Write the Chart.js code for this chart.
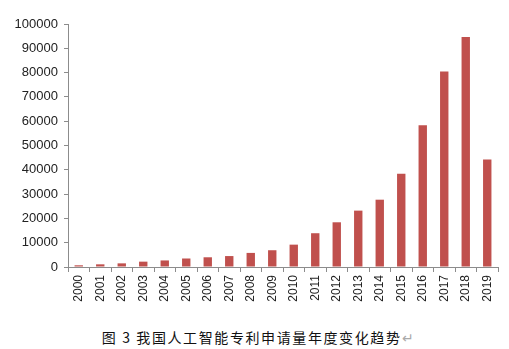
<!DOCTYPE html>
<html>
<head>
<meta charset="utf-8">
<script src="https://cdn.jsdelivr.net/npm/chart.js@4/dist/chart.umd.min.js"></script>
<style>
  html, body { margin: 0; padding: 0; background: #fff; }
  #wrap { position: relative; width: 509px; height: 349px; }
  #chart-box { position: absolute; left: 0; top: 0; width: 509px; height: 318px; }
  #caption {
    position: absolute; left: 0; width: 509px; top: 327px; padding-left: 4px;
    text-align: center; font-family: "Noto Sans CJK SC", sans-serif;
    font-size: 14px; color: #111; letter-spacing: 1.6px;
  }
  #caption span { color: #aaa; }
</style>
</head>
<body>
<div id="wrap">
  <div id="chart-box"><canvas id="myChart"></canvas></div>
  <div id="caption">图 3 我国人工智能专利申请量年度变化趋势<span>↵</span></div>
</div>
<script>
// yearly patent applications
const years = ['2000','2001','2002','2003','2004','2005','2006','2007','2008','2009',
               '2010','2011','2012','2013','2014','2015','2016','2017','2018','2019'];
const applications = [700, 1100, 1500, 2200, 2700, 3500, 4000, 4500, 5800, 6900,
                      9200, 13900, 18400, 23200, 27700, 38400, 58300, 80500, 94600, 44200];
const yTicks = [0, 10000, 20000, 30000, 40000, 50000, 60000, 70000, 80000, 90000, 100000];

const axisGray = '#8c8c8c';
const ctx = document.getElementById('myChart');

new Chart(ctx, {
  type: 'bar',
  data: {
    labels: years,
    datasets: [{
      data: applications,
      backgroundColor: '#c0504d',
      categoryPercentage: 1,
      barPercentage: 0.39,
    }]
  },
  options: {
    responsive: true,
    maintainAspectRatio: false,
    animation: false,
    layout: { padding: { left: 0, right: 11, top: 24, bottom: 0 } },
    plugins: { legend: { display: false }, tooltip: { enabled: false } },
    scales: {
      x: {
        afterFit: (scale) => { scale.height = 51; },
        border: { color: axisGray, width: 1 },
        grid: { drawOnChartArea: false, drawTicks: true, tickLength: 5, color: axisGray },
        ticks: {
          minRotation: 90, maxRotation: 90, autoSkip: false,
          padding: 3,
          color: '#222',
          font: { family: 'Liberation Sans, Arial, sans-serif', size: 12 }
        }
      },
      y: {
        min: 0, max: 100000,
        afterFit: (scale) => { scale.width = 68; },
        afterBuildTicks: (scale) => { scale.ticks = yTicks.map(v => ({ value: v })); },
        border: { color: axisGray, width: 1 },
        grid: { drawOnChartArea: false, drawTicks: true, tickLength: 4, color: axisGray },
        ticks: {
          padding: 6,
          color: '#222',
          callback: (v) => String(v),
          font: { family: 'Liberation Sans, Arial, sans-serif', size: 13 }
        }
      }
    }
  }
});
</script>
</body>
</html>
